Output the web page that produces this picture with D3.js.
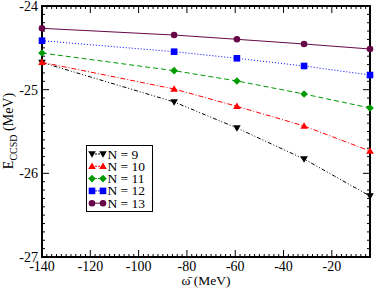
<!DOCTYPE html>
<html><head><meta charset="utf-8">
<script src="https://cdn.jsdelivr.net/npm/d3@7"></script>
<style>
html,body{margin:0;padding:0;background:#fff;}
text{font-family:"Liberation Serif","Times New Roman",serif;}
</style></head>
<body><svg id="c" width="374" height="288"></svg>
<script>
const omega = [-140, -85.3, -59.3, -31.5, -4.2];
const seriesNames = ["N = 9", "N = 10", "N = 11", "N = 12", "N = 13"];
const n9  = [-24.675, -25.147, -25.458, -25.829, -26.271];
const n10 = [-24.673, -24.992, -25.199, -25.434, -25.733];
const n11 = [-24.562, -24.773, -24.896, -25.052, -25.219];
const n12 = [-24.415, -24.546, -24.625, -24.717, -24.825];
const n13 = [-24.267, -24.347, -24.398, -24.454, -24.514];
const xTicks = [-140, -120, -100, -80, -60, -40, -20];
const yTicks = [-27, -26, -25, -24];

const colors = ["#000000", "#ff0000", "#009a00", "#0000ff", "#670748"];
const dashes = ["4,2,1,2,1,2", "5,2,1,2", "5,3", "1,2", null];
const symbols = ["down", "up", "diamond", "square", "circle"];
const data = [n9, n10, n11, n12, n13];

const svg = d3.select("#c");
const L = 42, R = 370, T = 6, B = 257;
const x = d3.scaleLinear().domain([-140, -4.2]).range([L, R]);
const y = d3.scaleLinear().domain([-27, -24]).range([B, T]);

// ticks
const g = svg.append("g").attr("stroke", "#000").attr("stroke-width", 1);
const xMinor = d3.range(-140, -4, 2);
const yMinor = d3.range(0, 31).map(i => -27 + i * 0.1);
xMinor.forEach(v => {
  const maj = xTicks.includes(v);
  const len = maj ? 7 : 3;
  g.append("line").attr("x1", x(v)).attr("x2", x(v)).attr("y1", B).attr("y2", B - len);
  g.append("line").attr("x1", x(v)).attr("x2", x(v)).attr("y1", T).attr("y2", T + len);
});
yMinor.forEach(v => {
  const maj = Math.abs(v - Math.round(v)) < 1e-6;
  const len = maj ? 7 : 3;
  g.append("line").attr("x1", L).attr("x2", L + len).attr("y1", y(v)).attr("y2", y(v));
  g.append("line").attr("x1", R).attr("x2", R - len).attr("y1", y(v)).attr("y2", y(v));
});
svg.append("rect").attr("x", L).attr("y", T).attr("width", R - L).attr("height", B - T)
  .attr("fill", "none").attr("stroke", "#000").attr("stroke-width", 2);

// tick labels
xTicks.forEach(v => {
  svg.append("text").attr("x", x(v)).attr("y", 271).attr("text-anchor", "middle")
    .attr("font-size", 14).text(v);
});
yTicks.forEach(v => {
  svg.append("text").attr("x", 38).attr("y", y(v) + 5).attr("text-anchor", "end")
    .attr("font-size", 14).text(v);
});

// axis titles
const xt = svg.append("text").attr("x", 206).attr("y", 285).attr("text-anchor", "middle").attr("font-size", 13.5);
xt.append("tspan").text("\u03C9\u0304");
xt.append("tspan").text(" (MeV)");
const yt = svg.append("text").attr("transform", "translate(13,131) rotate(-90)")
  .attr("text-anchor", "middle").attr("font-size", 14);
yt.append("tspan").text("E");
yt.append("tspan").attr("font-size", 10).attr("dy", 4).text("CCSD");
yt.append("tspan").attr("dy", -4).text(" (MeV)");

function sym(sel, type, cx, cy, color) {
  const s = 3.3;
  if (type === "circle") sel.append("circle").attr("cx", cx).attr("cy", cy).attr("r", s).attr("fill", color);
  else if (type === "square") sel.append("rect").attr("x", cx - s).attr("y", cy - s).attr("width", 2 * s).attr("height", 2 * s).attr("fill", color);
  else if (type === "diamond") sel.append("path").attr("d", `M${cx},${cy - s - 0.5}L${cx + s + 0.5},${cy}L${cx},${cy + s + 0.5}L${cx - s - 0.5},${cy}Z`).attr("fill", color);
  else if (type === "up") sel.append("path").attr("d", `M${cx},${cy - s - 0.5}L${cx + s + 0.5},${cy + s - 0.5}L${cx - s - 0.5},${cy + s - 0.5}Z`).attr("fill", color);
  else sel.append("path").attr("d", `M${cx},${cy + s + 0.5}L${cx + s + 0.5},${cy - s + 0.5}L${cx - s - 0.5},${cy - s + 0.5}Z`).attr("fill", color);
}

const line = d3.line().x((d, i) => x(omega[i])).y(d => y(d));
data.forEach((vals, k) => {
  svg.append("path").attr("d", line(vals)).attr("fill", "none")
    .attr("stroke", colors[k]).attr("stroke-width", 1)
    .attr("stroke-dasharray", dashes[k]);
  const sg = svg.append("g");
  vals.forEach((v, i) => sym(sg, symbols[k], x(omega[i]), y(v), colors[k]));
});

// legend
const lg = svg.append("g");
lg.append("rect").attr("x", 86.5).attr("y", 145.5).attr("width", 66).attr("height", 66)
  .attr("fill", "#fff").attr("stroke", "#000").attr("stroke-width", 1);
seriesNames.forEach((nm, k) => {
  const cy = 154 + k * 12.3;
  lg.append("line").attr("x1", 92).attr("x2", 103).attr("y1", cy).attr("y2", cy)
    .attr("stroke", colors[k]).attr("stroke-width", 1).attr("stroke-dasharray", dashes[k] ? "2,1" : null);
  sym(lg, symbols[k], 92, cy, colors[k]);
  sym(lg, symbols[k], 103, cy, colors[k]);
  lg.append("text").attr("x", 107.5).attr("y", cy + 4.5).attr("font-size", 13.5).text(nm);
});
</script></body></html>
